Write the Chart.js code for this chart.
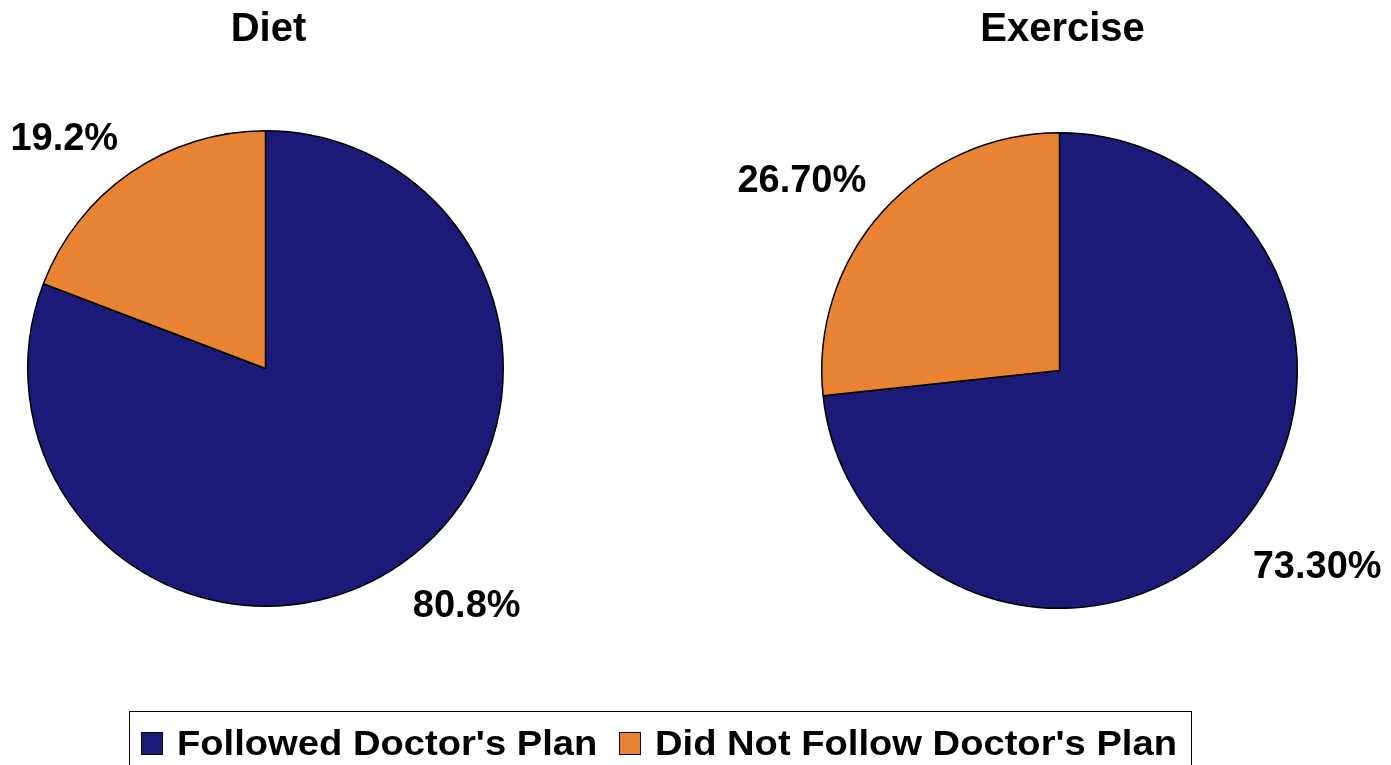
<!DOCTYPE html>
<html>
<head>
<meta charset="utf-8">
<script src="https://cdn.jsdelivr.net/npm/chart.js@4.4.1/dist/chart.umd.min.js"></script>
<style>
  body { margin: 0; background: #fff; width: 1391px; height: 765px; overflow: hidden; position: relative; font-family: "Liberation Sans", Arial, sans-serif; }
  canvas { position: absolute; left: 0; top: 0; }
  #legend { position: absolute; left: 129px; top: 711px; width: 1063px; height: 70px; border: 1.5px solid #000; box-sizing: border-box; }
  .item { position: absolute; top: 13px; font-weight: bold; font-size: 35px; line-height: 35px; color: #000; white-space: nowrap; transform: scaleX(1.09); transform-origin: left center; }
  .box { position: absolute; top: 20px; width: 22px; height: 23px; border: 1px solid #000; box-sizing: border-box; }
</style>
</head>
<body>
<canvas id="diet" width="1391" height="765"></canvas>
<canvas id="exercise" width="1391" height="765"></canvas>
<div id="legend"></div>
<script>
// data
var categories = ["Followed Doctor's Plan", "Did Not Follow Doctor's Plan"];
var dietValues = [80.8, 19.2];
var exerciseValues = [73.3, 26.7];
var chartTitles = ['Diet', 'Exercise'];
var labelDecimals = [1, 2];
var sliceColors = ['#1b1a78', '#e98334'];

// titles + outside percentage labels
var labelPlugin = {
    id: 'pieText',
    afterDraw: function (chart) {
        var ctx = chart.ctx;
        var meta = chart.getDatasetMeta(0);
        var opts = chart.options.plugins.pieText;
        var arc0 = meta.data[0];
        ctx.save();
        ctx.fillStyle = '#000';

        ctx.font = 'bold 40px "Liberation Sans", Arial, sans-serif';
        ctx.textAlign = 'center';
        ctx.textBaseline = 'alphabetic';
        ctx.fillText(opts.title, arc0.x + 3, 41);

        var size = 38;
        ctx.font = 'bold ' + size + 'px "Liberation Sans", Arial, sans-serif';
        meta.data.forEach(function (arc, i) {
            var mid = (arc.startAngle + arc.endAngle) / 2;
            var dist = arc.outerRadius + 22;
            var px = arc.x + Math.cos(mid) * dist;
            var py = arc.y + Math.sin(mid) * dist;
            var txt = chart.data.datasets[0].data[i].toFixed(opts.decimals) + '%';
            ctx.textAlign = Math.cos(mid) >= 0 ? 'left' : 'right';
            // label sits outside the slice corner nearest the pie
            var base = Math.sin(mid) >= 0 ? py + size * 0.72 + 7 : py - 5;
            ctx.fillText(txt, px, base);
        });
        ctx.restore();
    }
};

function makePie(id, values, title, decimals, pad) {
    return new Chart(document.getElementById(id), {
        type: 'pie',
        data: {
            labels: categories,
            datasets: [{
                data: values,
                backgroundColor: sliceColors,
                borderColor: '#000',
                borderWidth: 1.5
            }]
        },
        options: {
            responsive: false,
            animation: false,
            layout: { padding: pad },
            plugins: {
                legend: { display: false },
                tooltip: { enabled: false },
                title: { display: false },
                pieText: { title: title, decimals: decimals }
            }
        },
        plugins: [labelPlugin]
    });
}

makePie('diet', dietValues, chartTitles[0], labelDecimals[0], { left: 27, right: 887, top: 130, bottom: 158 });
makePie('exercise', exerciseValues, chartTitles[1], labelDecimals[1], { left: 821, right: 93, top: 132, bottom: 156 });

// legend
var legend = document.getElementById('legend');
var xPos = [11, 489];
categories.forEach(function (name, i) {
    var box = document.createElement('div');
    box.className = 'box';
    box.style.left = xPos[i] + 'px';
    box.style.backgroundColor = sliceColors[i];
    legend.appendChild(box);
    var item = document.createElement('div');
    item.className = 'item';
    item.style.left = (xPos[i] + 36) + 'px';
    item.textContent = name;
    legend.appendChild(item);
});
</script>
</body>
</html>
